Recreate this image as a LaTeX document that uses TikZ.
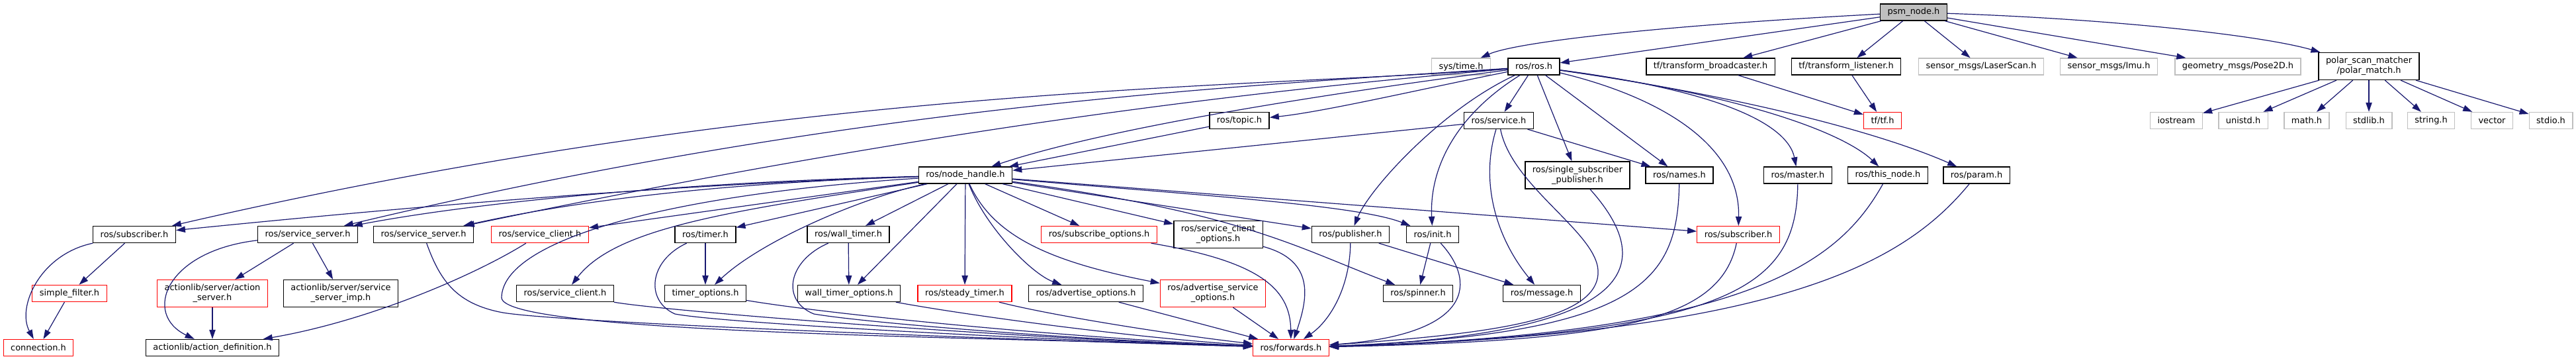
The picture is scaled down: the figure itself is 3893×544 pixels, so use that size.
\documentclass[tikz,border=0pt]{standalone}
\usepackage{fontspec}
\newfontfamily\dvsans{DejaVu Sans}
\usetikzlibrary{arrows.meta}
\definecolor{edgeblue}{HTML}{191970}
\definecolor{grey75}{HTML}{BFBFBF}
\begin{document}
\begin{tikzpicture}[x=0.75pt,y=0.75pt,
	file/.style={draw=black,fill=white,line width=1pt,inner xsep=8.25pt,inner ysep=0pt,minimum height=18.75pt,font={\dvsans\fontsize{9.7}{11.25}\selectfont}},
	sysfile/.style={file,draw=grey75},
	trunc/.style={file,draw=red},
	twoline/.style={align=center,minimum height=30.75pt},
	edge/.style={draw=edgeblue,line width=0.9pt,-{Triangle[length=10.5pt,width=7pt]}}]
	\path[use as bounding box,fill=white] (0,0) rectangle (3893,544);
	
	\node[file,fill=grey75] at (2892,525.5) (psm) {psm\_node.h};
	
	\node[sysfile] at (2208,443.5) (systime) {sys/time.h};
	\node[file] at (2318,443.5) (rosros) {ros/ros.h};
	\node[file] at (2585,443.5) (tfbc) {tf/transform\_broadcaster.h};
	\node[file] at (2790,443.5) (tflis) {tf/transform\_listener.h};
	\node[sysfile] at (2994,443.5) (laser) {sensor\_msgs/LaserScan.h};
	\node[sysfile] at (3187,443.5) (imu) {sensor\_msgs/Imu.h};
	\node[sysfile] at (3382,443.5) (pose) {geometry\_msgs/Pose2D.h};
	\node[file,twoline] at (3580,444) (polar) {polar\_scan\_matcher\\/polar\_match.h};
	
	\node[file] at (1873,362) (topic) {ros/topic.h};
	\node[file] at (2265,362) (service) {ros/service.h};
	\node[trunc] at (2845,362) (tftf) {tf/tf.h};
	\node[sysfile] at (3289,362) (iostream) {iostream};
	\node[sysfile] at (3390,362) (unistd) {unistd.h};
	\node[sysfile] at (3486,362) (math) {math.h};
	\node[sysfile] at (3580,362) (stdlib) {stdlib.h};
	\node[sysfile] at (3674,362) (string) {string.h};
	\node[sysfile] at (3766,362) (vector) {vector};
	\node[sysfile] at (3855,362) (stdio) {stdio.h};
	
	\node[file] at (1459,279.5) (nh) {ros/node\_handle.h};
	\node[file,twoline] at (2384,279.5) (ssp) {ros/single\_subscriber\\\_publisher.h};
	\node[file] at (2538,279.5) (names) {ros/names.h};
	\node[file] at (2717,279.5) (master) {ros/master.h};
	\node[file] at (2853,279.5) (thisnode) {ros/this\_node.h};
	\node[file] at (2987,279.5) (param) {ros/param.h};
	
	\node[file] at (203,190) (subL) {ros/subscriber.h};
	\node[file] at (465,190) (ssrv1) {ros/service\_server.h};
	\node[file] at (640,190) (ssrv2) {ros/service\_server.h};
	\node[trunc] at (816,190) (sclR) {ros/service\_client.h};
	\node[file] at (1066,190) (timer) {ros/timer.h};
	\node[file] at (1282,190) (wtimer) {ros/wall\_timer.h};
	\node[trunc] at (1661,190) (subopt) {ros/subscribe\_options.h};
	\node[file,twoline] at (1841,190) (scopt) {ros/service\_client\\\_options.h};
	\node[file] at (2041,190) (pub) {ros/publisher.h};
	\node[file] at (2165,190) (init) {ros/init.h};
	\node[trunc] at (2627,190) (subR) {ros/subscriber.h};
	
	\node[trunc] at (105,101) (sfilter) {simple\_filter.h};
	\node[trunc,twoline] at (321,101) (acsrv) {actionlib/server/action\\\_server.h};
	\node[file,twoline] at (515,101) (ssimp) {actionlib/server/service\\\_server\_imp.h};
	\node[file] at (854,101) (scl) {ros/service\_client.h};
	\node[file] at (1066,101) (topt) {timer\_options.h};
	\node[file] at (1283,101) (wtopt) {wall\_timer\_options.h};
	\node[trunc] at (1458,101) (steady) {ros/steady\_timer.h};
	\node[file] at (1641,101) (advopt) {ros/advertise\_options.h};
	\node[trunc,twoline] at (1833,101) (asopt) {ros/advertise\_service\\\_options.h};
	\node[file] at (2143,101) (spinner) {ros/spinner.h};
	\node[file] at (2330,101) (message) {ros/message.h};
	
	\node[trunc] at (58,19) (conn) {connection.h};
	\node[file] at (321,19) (actdef) {actionlib/action\_definition.h};
	\node[trunc] at (1951,19) (fwd) {ros/forwards.h};
	
	\draw[edge] (psm) .. controls (2500,505) and (2290,480) .. (systime);
	\draw[edge] (psm) -- (rosros);
	\draw[edge] (psm) -- (tfbc);
	\draw[edge] (psm) -- (tflis);
	\draw[edge] (psm) -- (laser);
	\draw[edge] (psm) -- (imu);
	\draw[edge] (psm) -- (pose);
	\draw[edge] (psm) .. controls (3200,515) and (3420,490) .. (polar);
	\draw[edge] (tfbc) -- (tftf);
	\draw[edge] (tflis) -- (tftf);
	\foreach \n in {iostream,unistd,math,stdlib,string,vector,stdio}
		\draw[edge] (polar) -- (\n);
	
	\draw[edge] (rosros) .. controls (2150,410) and (2000,375) .. (topic);
	\draw[edge] (rosros) -- (service);
	\draw[edge] (rosros) .. controls (2100,415) and (1700,360) .. (nh);
	\draw[edge] (rosros) .. controls (1900,410) and (1200,420) .. (subL);
	\draw[edge] (rosros) .. controls (1900,415) and (1300,390) .. (ssrv1);
	\draw[edge] (rosros) .. controls (2000,415) and (1500,370) .. (ssrv2);
	\draw[edge] (rosros) -- (ssp);
	\draw[edge] (rosros) -- (names);
	\draw[edge] (rosros) .. controls (2180,380) and (2070,260) .. (pub);
	\draw[edge] (rosros) .. controls (2200,370) and (2160,290) .. (init);
	\draw[edge] (rosros) .. controls (2500,400) and (2630,330) .. (subR);
	\draw[edge] (rosros) .. controls (2650,400) and (2705,340) .. (master);
	\draw[edge] (rosros) .. controls (2650,398) and (2790,340) .. (thisnode);
	\draw[edge] (rosros) .. controls (2650,396) and (2850,340) .. (param);
	
	\draw[edge] (topic) -- (nh);
	\draw[edge] (service) -- (nh);
	\draw[edge] (service) -- (names);
	\draw[edge] (service) .. controls (2235,264) and (2265,180) .. (message);
	\draw[edge] (service) .. controls (2285,260) and (2420,190) .. (2415,130) .. controls (2410,60) and (2250,40) .. (fwd);
	
	\draw[edge] (nh) .. controls (1000,265) and (600,230) .. (subL);
	\draw[edge] (nh) .. controls (1000,268) and (700,235) .. (ssrv1);
	\draw[edge] (nh) .. controls (1000,265) and (800,225) .. (ssrv2);
	\draw[edge] (nh) -- (sclR);
	\draw[edge] (nh) .. controls (1100,225) and (930,200) .. (scl);
	\draw[edge] (nh) .. controls (1000,250) and (760,180) .. (758,95) .. controls (756,40) and (1500,35) .. (fwd);
	\draw[edge] (nh) -- (timer);
	\draw[edge] (nh) .. controls (1300,245) and (1150,180) .. (topt);
	\draw[edge] (nh) -- (wtimer);
	\draw[edge] (nh) -- (wtopt);
	\draw[edge] (nh) -- (steady);
	\draw[edge] (nh) .. controls (1490,200) and (1560,130) .. (advopt);
	\draw[edge] (nh) .. controls (1500,190) and (1580,150) .. (asopt);
	\draw[edge] (nh) -- (subopt);
	\draw[edge] (nh) -- (scopt);
	\draw[edge] (nh) -- (pub);
	\draw[edge] (nh) .. controls (1800,250) and (2050,235) .. (init);
	\draw[edge] (nh) -- (subR);
	\draw[edge] (nh) .. controls (1880,222) and (1960,170) .. (spinner);
	
	\draw[edge] (subL) .. controls (60,160) and (25,80) .. (conn);
	\draw[edge] (subL) -- (sfilter);
	\draw[edge] (sfilter) -- (conn);
	\draw[edge] (ssrv1) -- (acsrv);
	\draw[edge] (ssrv1) -- (ssimp);
	\draw[edge] (ssrv1) .. controls (250,165) and (215,70) .. (actdef);
	\draw[edge] (acsrv) -- (actdef);
	\draw[edge] (ssrv2) .. controls (665,120) and (690,85) .. (760,72) .. controls (850,57) and (1500,32) .. (fwd);
	\draw[edge] (sclR) .. controls (720,130) and (560,60) .. (actdef);
	\draw[edge] (scl) .. controls (1000,75) and (1500,35) .. (fwd);
	\draw[edge] (timer) -- (topt);
	\draw[edge] (timer) .. controls (980,150) and (975,90) .. (1020,70) .. controls (1100,55) and (1600,30) .. (fwd);
	\draw[edge] (wtimer) -- (wtopt);
	\draw[edge] (wtimer) .. controls (1190,150) and (1180,90) .. (1230,70) .. controls (1320,55) and (1650,30) .. (fwd);
	\draw[edge] (topt) .. controls (1250,70) and (1600,35) .. (fwd);
	\draw[edge] (wtopt) .. controls (1450,70) and (1700,35) .. (fwd);
	\draw[edge] (steady) .. controls (1600,65) and (1800,35) .. (fwd);
	\draw[edge] (advopt) -- (fwd);
	\draw[edge] (asopt) -- (fwd);
	\draw[edge] (subopt) .. controls (1900,150) and (1950,110) .. (fwd);
	\draw[edge] (scopt) .. controls (1990,150) and (1975,90) .. (fwd);
	\draw[edge] (pub) .. controls (2040,110) and (2010,60) .. (fwd);
	\draw[edge] (pub) -- (message);
	\draw[edge] (init) -- (spinner);
	\draw[edge] (init) .. controls (2230,120) and (2230,40) .. (fwd);
	\draw[edge] (subR) .. controls (2600,60) and (2450,30) .. (fwd);
	\draw[edge] (ssp) .. controls (2500,150) and (2490,40) .. (fwd);
	\draw[edge] (names) .. controls (2535,120) and (2480,40) .. (fwd);
	\draw[edge] (master) .. controls (2715,110) and (2620,40) .. (fwd);
	\draw[edge] (thisnode) .. controls (2780,150) and (2650,40) .. (fwd);
	\draw[edge] (param) .. controls (2880,150) and (2700,40) .. (fwd);
\end{tikzpicture}
\end{document}
